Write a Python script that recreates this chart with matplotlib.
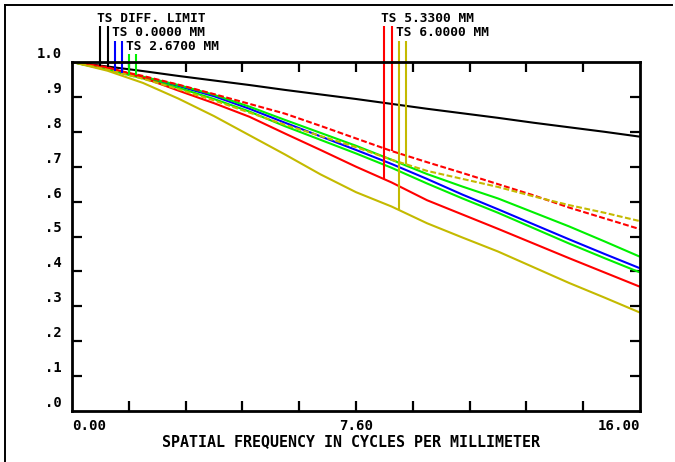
import numpy as np
import matplotlib
matplotlib.use("Agg")
import matplotlib.pyplot as plt
from matplotlib import transforms
from matplotlib.lines import Line2D

# ---------------- data ----------------
freq = [0, 1, 2, 3, 4, 5, 6, 7, 8, 9, 10, 11, 12, 13, 14, 15, 16]

diff_limit = [1.0, 0.987, 0.974, 0.960, 0.947, 0.934, 0.920, 0.907, 0.894,
              0.880, 0.866, 0.853, 0.840, 0.826, 0.813, 0.800, 0.786]
ts_0000 = [1.0, 0.979, 0.956, 0.931, 0.902, 0.866, 0.826, 0.787, 0.748,
           0.708, 0.665, 0.620, 0.578, 0.535, 0.492, 0.450, 0.409]
t_2670 = [1.0, 0.978, 0.953, 0.926, 0.894, 0.858, 0.816, 0.777, 0.738,
          0.697, 0.652, 0.609, 0.568, 0.524, 0.480, 0.438, 0.397]
s_2670 = [1.0, 0.980, 0.958, 0.934, 0.906, 0.872, 0.834, 0.797, 0.760,
          0.720, 0.679, 0.643, 0.609, 0.569, 0.529, 0.486, 0.442]
t_5330 = [1.0, 0.985, 0.955, 0.918, 0.882, 0.843, 0.795, 0.748, 0.700,
          0.655, 0.604, 0.563, 0.522, 0.480, 0.438, 0.397, 0.356]
s_5330 = [1.0, 0.982, 0.960, 0.935, 0.908, 0.880, 0.852, 0.817, 0.781,
          0.745, 0.713, 0.682, 0.650, 0.618, 0.583, 0.552, 0.521]
t_6000 = [1.0, 0.975, 0.940, 0.895, 0.845, 0.790, 0.735, 0.678, 0.627,
          0.586, 0.538, 0.497, 0.457, 0.412, 0.367, 0.325, 0.282]
s_6000 = [1.0, 0.978, 0.952, 0.922, 0.890, 0.855, 0.820, 0.788, 0.756,
          0.720, 0.688, 0.665, 0.642, 0.615, 0.590, 0.568, 0.544]

legend_labels = ["TS DIFF. LIMIT", "TS 0.0000 MM", "TS 2.6700 MM",
                 "TS 5.3300 MM", "TS 6.0000 MM"]
legend_marker_freq = [[0.8, 1.0], [1.2, 1.4], [1.6, 1.8], [8.8, 9.0], [9.2, 9.4]]

x_tick_values = [1.6, 3.2, 4.8, 6.4, 8.0, 9.6, 11.2, 12.8, 14.4]
y_tick_values = [0.1, 0.2, 0.3, 0.4, 0.5, 0.6, 0.7, 0.8, 0.9]
y_label_values = [1.0, 0.9, 0.8, 0.7, 0.6, 0.5, 0.4, 0.3, 0.2, 0.1, 0.0]
y_label_texts = ["1.0", ".9", ".8", ".7", ".6", ".5", ".4", ".3", ".2", ".1", ".0"]
x_label_values = [0.0, 8.0, 16.0]
x_label_texts = ["0.00", "7.60", "16.00"]
x_title = "SPATIAL FREQUENCY IN CYCLES PER MILLIMETER"

# ---------------- styling ----------------
BLACK = "#000000"
BLUE = "#0000FF"
GREEN = "#00F000"
RED = "#FF0000"
YELLOW = "#C4BA00"
FONT = "DejaVu Sans Mono"
W, H = 675, 462

fig = plt.figure(figsize=(W / 100, H / 100), dpi=100)
fig.patch.set_facecolor("white")
ax = fig.add_axes([72 / W, 51 / H, 568 / W, 349 / H])
ax.set_xlim(0, 16)
ax.set_ylim(0, 1.0)

lw = 1.5
dash = (0, (2.8, 1.2))

curves = [
    (diff_limit, BLACK, "-"),
    (ts_0000, BLUE, "-"),
    (s_2670, GREEN, "-"),
    (t_2670, GREEN, "-"),
    (s_5330, RED, dash),
    (t_5330, RED, "-"),
    (s_6000, YELLOW, dash),
    (t_6000, YELLOW, "-"),
]
for vals, col, ls in curves:
    ax.plot(freq, vals, color=col, lw=lw, linestyle=ls, solid_capstyle="butt")

for sp in ax.spines.values():
    sp.set_linewidth(2.0)
ax.set_xticks(x_tick_values)
ax.set_yticks(y_tick_values)
ax.tick_params(direction="in", length=7, width=1.6, top=True, right=True,
               labelleft=False, labelbottom=False)

# y tick labels (raised above their ticks as in the reference)
ytrans = transforms.offset_copy(ax.get_yaxis_transform(), fig=fig, x=-10, y=4, units="dots")
for v, t in zip(y_label_values, y_label_texts):
    ax.text(0, v, t, transform=ytrans, ha="right", va="baseline",
            fontsize=10, fontfamily=FONT, fontweight="bold", clip_on=False)

# x tick labels
xtrans = transforms.blended_transform_factory(ax.transData, fig.transFigure)
aligns = ["left", "center", "right"]
for v, t, a in zip(x_label_values, x_label_texts, aligns):
    ax.text(v, 1 - 430 / H, t, transform=xtrans, ha=a, va="baseline",
            fontsize=10.2, fontfamily=FONT, fontweight="bold", clip_on=False)
fig.text(351 / W, 1 - 446 / H, x_title, ha="center", va="baseline",
         fontsize=10.8, fontfamily=FONT, fontweight="bold")

# legend: labels and drop lines down to the curves
legend_curves = [(diff_limit, diff_limit), (ts_0000, ts_0000), (t_2670, s_2670),
                 (t_5330, s_5330), (t_6000, s_6000)]
legend_colors = [BLACK, BLUE, GREEN, RED, YELLOW]
label_baseline_px = [22, 36, 50, 21.5, 36]
line_top_px = [26, 40.5, 53.5, 26, 40.5]

inv = ax.transData.inverted()
for lab, (tc, sc), col, fpos, base, top in zip(legend_labels, legend_curves, legend_colors,
                                             legend_marker_freq, label_baseline_px, line_top_px):
    ltrans = transforms.offset_copy(xtrans, fig=fig, x=-3, y=0, units="dots")
    ax.text(fpos[0], 1 - base / H, lab, transform=ltrans, ha="left", va="baseline",
            fontsize=9.3, fontfamily=FONT, fontweight="bold", clip_on=False)
    top_data = inv.transform((0, H - top))[1]
    for f, c in zip(fpos, (tc, sc)):
        bottom = np.interp(f, freq, c)
        ax.plot([f, f], [top_data, bottom], color=col, lw=lw, clip_on=False,
                solid_capstyle="butt")

# outer frame lines
fig.add_artist(Line2D([5 / W, 672 / W], [1 - 4.5 / H, 1 - 4.5 / H],
                      transform=fig.transFigure, color="black", lw=1.4))
fig.add_artist(Line2D([5 / W, 5 / W], [0, 1 - 4.5 / H],
                      transform=fig.transFigure, color="black", lw=1.4))

fig.savefig("out.png", dpi=100)
